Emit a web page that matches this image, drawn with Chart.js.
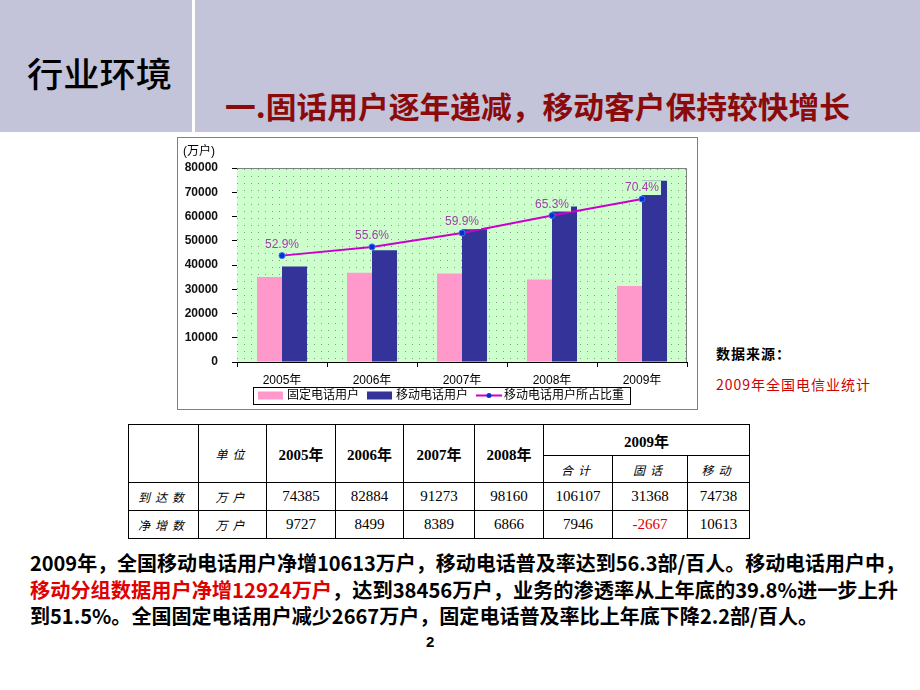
<!DOCTYPE html>
<html><head><meta charset="utf-8">
<script src="https://cdn.jsdelivr.net/npm/chart.js@4.4.0/dist/chart.umd.min.js"></script>
<style>
body{margin:0;width:920px;height:690px;overflow:hidden;background:#fff;position:relative;font-family:"Noto Sans CJK SC","Liberation Sans",sans-serif;}
.abs{position:absolute;white-space:nowrap;}
#hdr{left:0;top:0;width:920px;height:132px;background:#c3c3d9;}
#vline{left:192px;top:0;width:3px;height:132px;background:#fff;}
#t1{left:27px;top:56px;font-size:34px;line-height:34px;color:#000;font-weight:500;}
#t2{left:225px;top:90px;font-size:30px;line-height:30px;color:#8b0b0b;font-weight:bold;}
#chartbox{left:177px;top:137px;width:519px;height:271px;border:1px solid #808080;background:#fff;}
#src1{left:716px;top:345px;font-size:14px;line-height:16px;font-weight:bold;letter-spacing:1px;color:#000;}
#src2{left:716px;top:376px;font-size:14px;line-height:16px;letter-spacing:1px;color:#d00000;}
#tbl{position:absolute;left:128px;top:424px;border-collapse:collapse;table-layout:fixed;width:621px;}
#tbl td{border:1px solid #000;padding:0;text-align:center;font-family:"Liberation Serif","Noto Sans CJK SC",serif;font-size:15px;color:#000;}
#tbl td.h{font-weight:bold;}
#tbl td.c{font-family:"Noto Sans CJK SC",sans-serif;font-size:12px;letter-spacing:5px;font-style:italic;}
#tbl td.neg{color:#e00000;}
.p{left:30px;font-size:20px;line-height:20px;font-weight:bold;color:#000;}
.red{color:#e00000;}
#pg{left:426px;top:633px;font-size:15px;font-weight:bold;font-family:"Liberation Sans",sans-serif;}
</style></head><body>
<div id="hdr" class="abs"></div>
<div id="vline" class="abs"></div>
<div id="t1" class="abs fit" data-w="145">行业环境</div>
<div id="t2" class="abs fit" data-w="625">一.固话用户逐年递减，移动客户保持较快增长</div>
<div id="chartbox" class="abs"><canvas id="c" width="519" height="271"></canvas></div>
<div id="src1" class="abs">数据来源：</div>
<div id="src2" class="abs">2009年全国电信业统计</div>
<table id="tbl"><colgroup id="cols"></colgroup><tbody id="tb"></tbody></table>
<div class="abs p fit" data-w="875" style="top:553px">2009年，全国移动电话用户净增10613万户，移动电话普及率达到56.3部/百人。移动电话用户中，</div>
<div class="abs p fit" data-w="868" style="top:580px"><span class="red">移动分组数据用户净增12924万户</span>，达到38456万户，业务的渗透率从上年底的39.8%进一步上升</div>
<div class="abs p fit" data-w="788" style="top:606px">到51.5%。全国固定电话用户减少2667万户，固定电话普及率比上年底下降2.2部/百人。</div>
<div id="pg" class="abs">2</div>
<script>
// ---- chart data ----
const categories = ['2005年','2006年','2007年','2008年','2009年'];
const fixedUsers = [35045, 36779, 36545, 34036, 31368];
const mobileUsers = [39341, 46106, 54731, 64124, 74738];
const mobileShare = [52.9, 55.6, 59.9, 65.3, 70.4];
const seriesNames = ['固定电话用户','移动电话用户','移动电话用户所占比重'];
const unitLabel = '(万户)';
// ---- table data ----
const tableYears = ['2005年','2006年','2007年','2008年','2009年'];
const tableSub = ['合计','固话','移动'];
const rowNames = ['到达数','净增数'];
const unitName = '单位';
const rowUnit = '万户';
const arrivals = [74385, 82884, 91273, 98160, 106107, 31368, 74738];
const netAdds = [9727, 8499, 8389, 6866, 7946, -2667, 10613];

// build table
const colW = [70,68,69,68,71,69,69,75,62];
document.getElementById('cols').innerHTML = colW.map(w=>`<col style="width:${w}px">`).join('');
let h = '';
h += `<tr style="height:31px"><td rowspan="2"></td><td rowspan="2" class="c">${unitName}</td>`;
for (let i=0;i<4;i++) h += `<td rowspan="2" class="h">${tableYears[i]}</td>`;
h += `<td colspan="3" class="h">${tableYears[4]}</td></tr>`;
h += `<tr style="height:27px">` + tableSub.map(s=>`<td class="c">${s}</td>`).join('') + `</tr>`;
[arrivals, netAdds].forEach((arr, r) => {
  h += `<tr style="height:28px"><td class="c">${rowNames[r]}</td><td class="c">${rowUnit}</td>`;
  h += arr.map(v=>`<td class="${v<0?'neg':''}">${v}</td>`).join('') + `</tr>`;
});
document.getElementById('tb').innerHTML = h;

// fit text lines
document.querySelectorAll('.fit').forEach(el=>{
  const w = el.getBoundingClientRect().width;
  const t = parseFloat(el.dataset.w);
  el.style.transformOrigin = '0 0';
  el.style.transform = `scaleX(${t/w})`;
});

const FONT = '"Liberation Sans","Noto Sans CJK SC",sans-serif';

// dotted green background of plot
const bgPlugin = {
  id:'bgPattern',
  beforeDatasetsDraw(chart){
    const {ctx, chartArea:a} = chart;
    const pc = document.createElement('canvas');
    pc.width = 7; pc.height = 7;
    const p = pc.getContext('2d');
    p.fillStyle = '#ccffcc'; p.fillRect(0,0,7,7);
    p.fillStyle = '#8a9a8a'; p.fillRect(3,3,1,1);
    ctx.save();
    ctx.fillStyle = ctx.createPattern(pc,'repeat');
    ctx.fillRect(a.left, a.top, a.right-a.left, a.bottom-a.top);
    ctx.strokeStyle = '#808080'; ctx.lineWidth = 1;
    ctx.beginPath();
    ctx.moveTo(a.left, a.top+0.5); ctx.lineTo(a.right-0.5, a.top+0.5); ctx.lineTo(a.right-0.5, a.bottom);
    ctx.stroke();
    ctx.restore();
  }
};

const labelPlugin = {
  id:'pctLabels',
  afterDatasetsDraw(chart){
    const {ctx} = chart;
    const meta = chart.getDatasetMeta(0);
    ctx.save();
    ctx.font = '12px ' + FONT;
    ctx.textAlign = 'center'; ctx.textBaseline = 'middle';
    meta.data.forEach((pt,i)=>{
      const txt = mobileShare[i].toFixed(1) + '%';
      const w = ctx.measureText(txt).width;
      const y = pt.y - 11;
      ctx.fillStyle = '#ccffcc';
      ctx.fillRect(pt.x - w/2 - 2, y - 7, w + 4, 14);
      ctx.fillStyle = '#a040a8';
      ctx.fillText(txt, pt.x, y);
    });
    ctx.restore();
  }
};

const decoPlugin = {
  id:'deco',
  afterDraw(chart){
    const {ctx} = chart;
    ctx.save();
    // unit label
    ctx.font = '12px ' + FONT; ctx.fillStyle = '#000';
    ctx.textAlign = 'left'; ctx.textBaseline = 'middle';
    ctx.fillText(unitLabel, 5, 14);
    // legend
    const bx0 = 75, by0 = 249, bx1 = 452, by1 = 266, cy = (by0+by1)/2;
    ctx.strokeStyle = '#000'; ctx.lineWidth = 1;
    ctx.strokeRect(bx0+0.5, by0+0.5, bx1-bx0, by1-by0);
    let x = bx0 + 5;
    chart.data.datasets.slice().sort((a,b)=>a.legendIndex-b.legendIndex).forEach(ds=>{
      if (ds.type === 'line') {
        ctx.strokeStyle = ds.borderColor; ctx.lineWidth = 2;
        ctx.beginPath(); ctx.moveTo(x, cy); ctx.lineTo(x+26, cy); ctx.stroke();
        ctx.fillStyle = ds.pointBackgroundColor;
        ctx.beginPath(); ctx.arc(x+13, cy, 2.5, 0, Math.PI*2); ctx.fill();
        x += 28;
      } else {
        ctx.fillStyle = ds.backgroundColor;
        ctx.fillRect(x, cy-4, 25, 8);
        x += 29;
      }
      ctx.fillStyle = '#000'; ctx.font = '12px ' + FONT;
      ctx.fillText(ds.label, x, cy+0.5);
      x += ctx.measureText(ds.label).width + 8;
    });
    ctx.restore();
  }
};

new Chart(document.getElementById('c'), {
  type:'bar',
  data:{
    labels: categories,
    datasets:[
      {type:'line', label:seriesNames[2], data:mobileShare, yAxisID:'y2', order:0, legendIndex:2,
       borderColor:'#cc00cc', borderWidth:2, tension:0, fill:false,
       pointRadius:3, pointBackgroundColor:'#0033cc', pointBorderColor:'#3a6cff', pointBorderWidth:1},
      {label:seriesNames[0], data:fixedUsers, yAxisID:'y', order:1, legendIndex:0,
       backgroundColor:'#ff99cc', categoryPercentage:0.556, barPercentage:1},
      {label:seriesNames[1], data:mobileUsers, yAxisID:'y', order:1, legendIndex:1,
       backgroundColor:'#333399', categoryPercentage:0.556, barPercentage:1}
    ]
  },
  options:{
    responsive:false, animation:false,
    layout:{padding:{left:0, right:10, top:30, bottom:0}},
    plugins:{legend:{display:false}, tooltip:{enabled:false}},
    scales:{
      x:{
        grid:{offset:true, drawOnChartArea:false, tickLength:5, color:'#000'},
        border:{color:'#000', width:1},
        ticks:{font:{size:12, family:FONT}, color:'#000', padding:6, maxRotation:0},
        afterFit(s){ s.height = 47; }
      },
      y:{
        min:0, max:80000,
        grid:{drawOnChartArea:false, tickLength:5, color:'#000'},
        border:{color:'#000', width:1},
        ticks:{stepSize:10000, font:{size:12, weight:'bold', family:FONT}, color:'#111', padding:14,
               callback:v=>String(v)},
        afterFit(s){ s.width = 59; }
      },
      y2:{display:false, min:20, max:80}
    }
  },
  plugins:[bgPlugin, labelPlugin, decoPlugin]
});
</script>
</body></html>
